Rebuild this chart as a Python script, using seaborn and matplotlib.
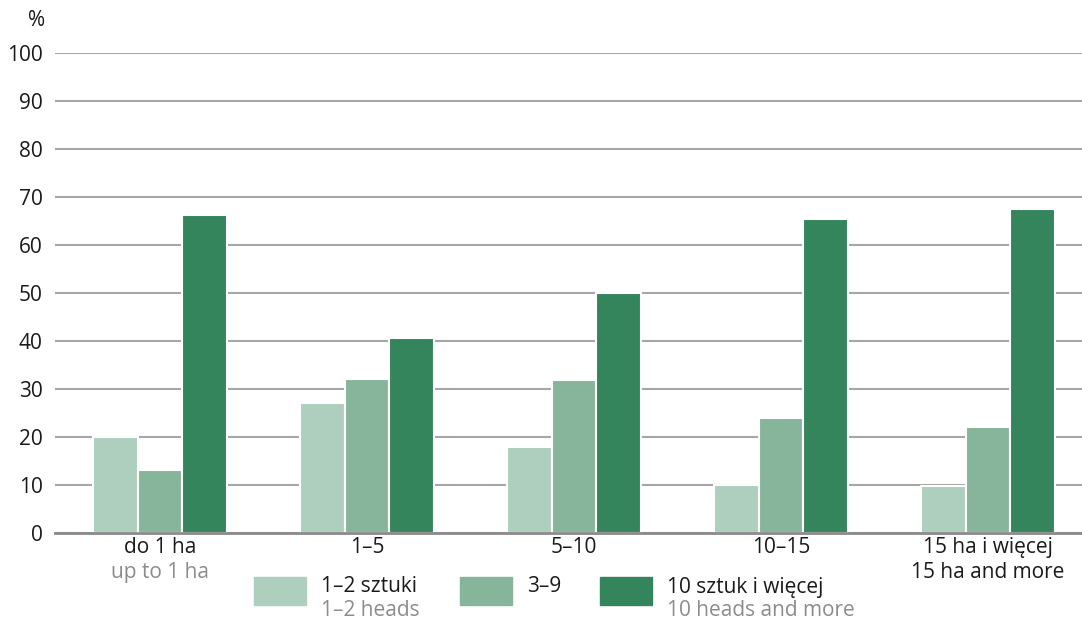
import numpy as np
import pandas as pd
import matplotlib
matplotlib.use('Agg')
import matplotlib.pyplot as plt
from matplotlib.patches import Rectangle
import seaborn as sns

# data
groups_pl = ['do 1 ha', '1–5', '5–10', '10–15', '15 ha i więcej']
groups_en = ['up to 1 ha', '', '', '', '15 ha and more']
series_pl = ['1–2 sztuki', '3–9', '10 sztuk i więcej']
series_en = ['1–2 heads', '', '10 heads and more']
heads_1_2 = [20, 27, 18, 10, 9.8]
heads_3_9 = [13.2, 32, 31.8, 24, 22]
heads_10 = [66.3, 40.6, 50.1, 65.4, 67.6]
colors = ['#aecfbe', '#86b59b', '#34845c']

df = pd.DataFrame({
    'group': groups_pl * 3,
    'series': np.repeat(series_pl, len(groups_pl)),
    'value': heads_1_2 + heads_3_9 + heads_10,
})

sns.set_theme(style='white')
plt.rcParams['font.family'] = ['Open Sans', 'DejaVu Sans']
fs = 15

fig = plt.figure(figsize=(10.82, 6.19), dpi=100)
ax = fig.add_axes([55 / 1082, 86 / 619, 1 - 55 / 1082, 480 / 619])

sns.barplot(data=df, x='group', y='value', hue='series', order=groups_pl,
            hue_order=series_pl, palette=colors, saturation=1, width=0.65,
            edgecolor='white', linewidth=1.5, ax=ax, legend=False, zorder=3)

ax.set_ylim(0, 100)
ax.set_xlim(-0.507, 4.454)
ax.set_yticks(range(0, 101, 10))
ax.yaxis.grid(True, color='#a6a6a6', linewidth=1.5, zorder=0)
ax.set_axisbelow(True)
for s in ['top', 'right', 'left']:
    ax.spines[s].set_visible(False)
ax.spines['bottom'].set_color('#8a8a8a')
ax.spines['bottom'].set_linewidth(2)
ax.spines['bottom'].set_zorder(4)
ax.set_xlabel('')
ax.set_ylabel('')
ax.tick_params(axis='y', length=0, pad=9, labelsize=fs, labelcolor='#1a1a1a')
ax.tick_params(axis='x', length=0, pad=3, labelsize=fs, labelcolor='#1a1a1a')
ax.text(-0.018, 1.045, '%', transform=ax.transAxes, ha='center', va='bottom',
        fontsize=fs, color='#1a1a1a')

# English sub-labels under the category names
trans = ax.get_xaxis_transform()
for i, lab in enumerate(groups_en):
    if lab:
        col = '#1a1a1a' if i == len(groups_en) - 1 else '#8c8c8c'
        ax.text(i, -0.082, lab, transform=trans, ha='center', va='center',
                fontsize=fs, color=col)

# legend drawn by hand to allow the two-colour labels
patch_x = [254, 460, 600]
for x0, c, pl, en in zip(patch_x, colors, series_pl, series_en):
    fig.add_artist(Rectangle((x0 / 1082, 1 - 605 / 619), 52 / 1082, 28 / 619,
                             transform=fig.transFigure, color=c))
    fig.text((x0 + 67) / 1082, 1 - 587 / 619, pl, ha='left', va='center',
             fontsize=fs, color='#1a1a1a')
    if en:
        fig.text((x0 + 67) / 1082, 1 - 610 / 619, en, ha='left', va='center',
                 fontsize=fs, color='#8c8c8c')

fig.savefig('out.png', dpi=100)
